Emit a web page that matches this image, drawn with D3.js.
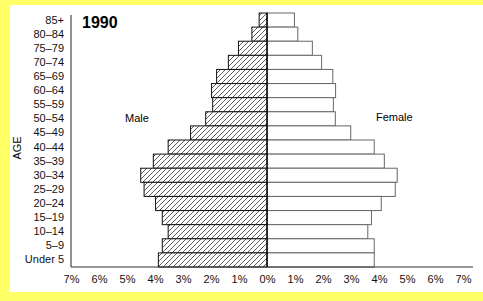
<!DOCTYPE html>
<html><head><meta charset="utf-8">
<script src="https://cdn.jsdelivr.net/npm/d3@7"></script>
<style>body{margin:0;background:#ffff66;} svg{display:block;}</style>
</head><body>
<svg id="c" width="483" height="301"></svg>
<script>
const ages = ["85+","80–84","75–79","70–74","65–69","60–64","55–59","50–54","45–49","40–44","35–39","30–34","25–29","20–24","15–19","10–14","5–9","Under 5"];
const male = [0.28,0.54,1.02,1.38,1.8,1.98,1.94,2.19,2.73,3.53,4.06,4.51,4.39,3.98,3.74,3.53,3.74,3.88];
const female = [0.98,1.1,1.62,1.95,2.35,2.45,2.37,2.44,2.99,3.83,4.19,4.65,4.58,4.08,3.73,3.6,3.83,3.83];
const tickVals = [-7,-6,-5,-4,-3,-2,-1,0,1,2,3,4,5,6,7];
const title = "1990";

const svg = d3.select("#c");
svg.append("rect").attr("x",10).attr("y",5).attr("width",473).attr("height",287).attr("fill","#fff");

const defs = svg.append("defs");
const pat = defs.append("pattern").attr("id","hatch").attr("patternUnits","userSpaceOnUse").attr("width",5).attr("height",5);
pat.append("rect").attr("width",5).attr("height",5).attr("fill","#fff");
pat.append("path").attr("d","M0,5L5,0M-1,1L1,-1M4,6L6,4").attr("stroke","#333").attr("stroke-width",0.8);

const x = d3.scaleLinear().domain([-7,7]).range([71,463]);
const y = d3.scaleBand().domain(ages).range([13,267]).padding(0);

// female bars
svg.append("g").selectAll("rect").data(ages).join("rect")
  .attr("x", x(0)).attr("y", d=>y(d))
  .attr("width", (d,i)=>x(female[i])-x(0)).attr("height", y.bandwidth())
  .attr("fill","#fff").attr("stroke","#666").attr("stroke-width",1);
// male bars
svg.append("g").selectAll("rect").data(ages).join("rect")
  .attr("x", (d,i)=>x(-male[i])).attr("y", d=>y(d))
  .attr("width", (d,i)=>x(0)-x(-male[i])).attr("height", y.bandwidth())
  .attr("fill","url(#hatch)").attr("stroke","#111").attr("stroke-width",1);
// center line
svg.append("line").attr("x1",x(0)).attr("x2",x(0)).attr("y1",13).attr("y2",267).attr("stroke","#000").attr("stroke-width",1.2);

// left axis
const yAxis = d3.axisLeft(y).tickSize(0).tickPadding(7);
const gy = svg.append("g").attr("transform",`translate(${x(-7)},0)`).call(yAxis);
gy.select(".domain").attr("d",`M0,15V267`).attr("stroke","#222");
gy.selectAll("text").attr("font-family","Liberation Sans, Arial, sans-serif").attr("font-size",11).attr("fill","#111");

// bottom axis
const xAxis = d3.axisBottom(x).tickValues(tickVals).tickSize(0).tickPadding(8).tickFormat(d=>Math.abs(d)+"%");
const gx = svg.append("g").attr("transform","translate(0,267)").call(xAxis);
gx.select(".domain").attr("d",`M${x(-7)},0H473`).attr("stroke","#333");
gx.selectAll("text").attr("font-family","Liberation Sans, Arial, sans-serif").attr("font-size",11).attr("fill","#111");

svg.append("text").attr("x",82).attr("y",28).text(title)
  .attr("font-family","Liberation Sans, Arial, sans-serif").attr("font-weight","bold").attr("font-size",16);
svg.append("text").attr("x",125).attr("y",122).text("Male")
  .attr("font-family","Liberation Sans, Arial, sans-serif").attr("font-size",11);
svg.append("text").attr("x",376).attr("y",121).text("Female")
  .attr("font-family","Liberation Sans, Arial, sans-serif").attr("font-size",11);
svg.append("text").attr("transform","translate(21,148) rotate(-90)").attr("text-anchor","middle").text("AGE")
  .attr("font-family","Liberation Sans, Arial, sans-serif").attr("font-size",11);
</script>
</body></html>
